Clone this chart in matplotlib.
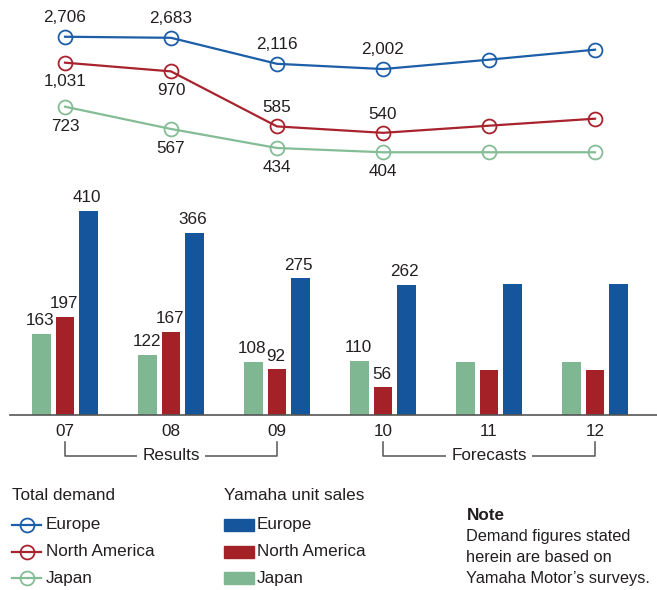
import matplotlib.pyplot as plt
from matplotlib.patches import Rectangle

plt.rcParams["font.family"] = ["Liberation Sans", "DejaVu Sans"]
plt.rcParams["font.size"] = 12.3
TXT = "#231f20"

# Data
years = ["07", "08", "09", "10", "11", "12"]
demand_europe = [2706, 2683, 2116, 2002, 2206, 2424]
demand_na = [1031, 970, 585, 540, 590, 639]
demand_japan = [723, 567, 434, 404, 404, 404]
demand_labels_shown = 4  # only results + first forecast year labelled

sales_europe = [410, 366, 275, 262, 264, 264]
sales_na = [197, 167, 92, 56, 90, 90]
sales_japan = [163, 122, 108, 110, 108, 108]
sales_labels_shown = 4

c_line_eu, c_line_na, c_line_jp = "#1c5ea8", "#a8232d", "#84bd95"
c_bar_eu, c_bar_na, c_bar_jp = "#15559b", "#a32127", "#80b793"

W, H = 657, 590
fig = plt.figure(figsize=(W / 100, H / 100), dpi=100)

def px_box(x0, y0, x1, y1):
    # pixel rectangle (top-left origin) -> figure fraction
    return [x0 / W, 1 - y1 / H, (x1 - x0) / W, (y1 - y0) / H]

x = list(range(len(years)))
xl = (-0.52, 5.6)
x_left = 65 - 0.52 * 106
x_right = 65 + 5.6 * 106

# ---- line chart (total demand) ----
ax_l = fig.add_axes(px_box(x_left, 20, x_right, 180))
ax_e = ax_l.twinx()
for a in (ax_l, ax_e):
    a.set_xlim(*xl)
    a.axis("off")
ax_l.set_ylim(210, 1329.6)
ax_e.set_ylim(-416, 3071)

mk = dict(marker="o", markersize=10, mfc="none", mew=1.3, lw=1.6, clip_on=False)
ax_e.plot(x, demand_europe, color=c_line_eu, **mk)
ax_l.plot(x, demand_na, color=c_line_na, **mk)
ax_l.plot(x, demand_japan, color=c_line_jp, **mk)

def lab(ax, xs, ys, offs):
    for xi, yi, o in zip(xs, ys, offs):
        ax.annotate(f"{yi:,}", (xi, yi), xytext=(0, o), textcoords="offset points",
                    ha="center", va="center", color=TXT)

n = demand_labels_shown
lab(ax_e, x[:n], demand_europe[:n], [14] * n)
lab(ax_l, x[:n], demand_na[:n], [-13.5, -13.5, 13.5, 13.5])
lab(ax_l, x[:n], demand_japan[:n], [-14] * n)

# ---- bar chart (Yamaha unit sales) ----
ax_b = fig.add_axes(px_box(x_left, 200, x_right, 415.3))
ax_b.set_xlim(*xl)
ax_b.set_ylim(0, 215.3 / 0.498)
bw = 0.178
off = 0.218
groups = [(sales_japan, -off, c_bar_jp), (sales_na, 0, c_bar_na), (sales_europe, off, c_bar_eu)]
for vals, o, col in groups:
    bars = ax_b.bar([i + o for i in x], vals, width=bw, color=col, zorder=2)
    for i in range(sales_labels_shown):
        ax_b.annotate(str(vals[i]), (x[i] + o, vals[i]), xytext=(-1, 9.5),
                      textcoords="offset points", ha="center", va="center", color=TXT)

for s in ("top", "right", "left"):
    ax_b.spines[s].set_visible(False)
ax_b.spines["bottom"].set_color("#555555")
ax_b.spines["bottom"].set_linewidth(1.2)
ax_b.set_yticks([])
ax_b.set_xticks(x)
ax_b.set_xticklabels(years, color=TXT)
ax_b.tick_params(axis="x", length=0, pad=6)

# brackets below the axis
def bracket(x0, x1, text):
    y0, y1 = -53, -81
    ax_b.plot([x0, x0, x1, x1], [y0, y1, y1, y0], color="#555555", lw=1.1, clip_on=False)
    ax_b.text((x0 + x1) / 2, y1, text, ha="center", va="center", color=TXT,
              bbox=dict(facecolor="white", edgecolor="none", pad=4), clip_on=False)

bracket(0, 2, "Results")
bracket(3, 5, "Forecasts")

# ---- legend and note ----
ov = fig.add_axes([0, 0, 1, 1], zorder=-1)
ov.set_xlim(0, W)
ov.set_ylim(H, 0)
ov.axis("off")

regions = ["Europe", "North America", "Japan"]
line_cols = [c_line_eu, c_line_na, c_line_jp]
bar_cols = [c_bar_eu, c_bar_na, c_bar_jp]
rows = [525, 551.7, 578.3]

ov.text(12, 495, "Total demand", ha="left", va="center", color=TXT)
ov.text(224, 495, "Yamaha unit sales", ha="left", va="center", color=TXT)
for name, lc, bc, y in zip(regions, line_cols, bar_cols, rows):
    ov.plot([12, 41], [y, y], color=lc, lw=1.6)
    ov.plot([26.5], [y], marker="o", markersize=10, mfc="none", mec=lc, mew=1.3)
    ov.text(46, y, name, ha="left", va="center", color=TXT)
    ov.add_patch(Rectangle((224, y - 6), 30, 12, color=bc))
    ov.text(257, y, name, ha="left", va="center", color=TXT)

ov.text(467, 515, "Note", ha="left", va="center", color=TXT, fontweight="bold")
note_lines = ["Demand figures stated", "herein are based on", "Yamaha Motor\u2019s surveys."]
for s, y in zip(note_lines, [536.7, 557.5, 578.3]):
    ov.text(466, y, s, ha="left", va="center", color=TXT, fontsize=11.8)

fig.savefig("out.png", dpi=100)
